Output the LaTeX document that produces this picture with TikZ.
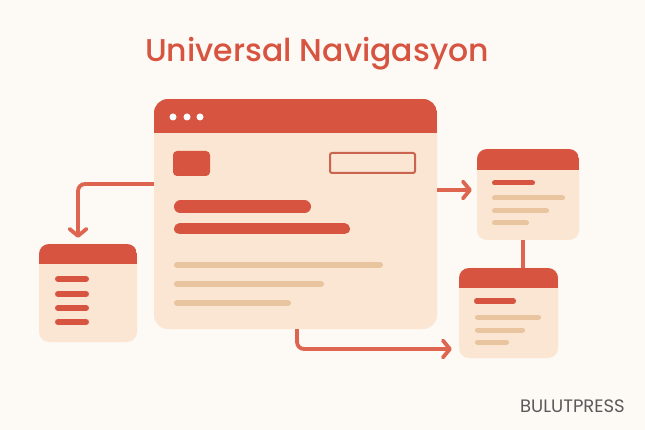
\documentclass[tikz,border=0pt]{standalone}
\usepackage{fontspec}
\setmainfont{Poppins}
\newfontfamily\titlefont{Poppins Medium}
\usetikzlibrary{arrows.meta,calc}
\definecolor{bgc}{HTML}{FDF9F4}
\definecolor{panelc}{HTML}{FAE6D3}
\definecolor{redc}{HTML}{D75441}
\definecolor{tanc}{HTML}{E8C49F}
\definecolor{arrc}{HTML}{DE6650}
\definecolor{boxc}{HTML}{C9654E}
\definecolor{logoc}{HTML}{5A5A5A}
\tikzset{
  win/.style n args={3}{draw=none, fill=panelc, rounded corners=#3,
    minimum width=#1, minimum height=#2, inner sep=0pt,
    path picture={\fill[redc, sharp corners] (path picture bounding box.north west) rectangle
      ([yshift=-\hdr]path picture bounding box.north east);}},
  conn/.style={draw=arrc, line width=3.8pt, rounded corners=7pt},
  arrowtip/.style={-{Straight Barb[length=7pt,width=17pt,line cap=round,line join=round]}},
  redbar/.style={draw=redc, line cap=round},
  tanbar/.style={draw=tanc, line cap=round, line width=6pt},
}
\newlength{\hdr}
\begin{document}
\begin{tikzpicture}[x=1pt,y=-1pt]
\fill[bgc] (0,0) rectangle (645,430);
\useasboundingbox (0,0) rectangle (645,430);

% title
\node[anchor=base, text=redc, font=\titlefont\fontsize{31.5}{34}\selectfont, inner sep=0pt] (title) at (317,62) {Universal Navigasyon};

% windows
\setlength{\hdr}{34pt}
\node[win={283pt}{230pt}{14pt}] (main) at (295.5,214) {};
\setlength{\hdr}{20pt}
\node[win={98pt}{98pt}{10pt}] (left) at (88,293) {};
\setlength{\hdr}{21pt}
\node[win={102pt}{91pt}{10pt}] (tr) at (528,194.5) {};
\setlength{\hdr}{20pt}
\node[win={99pt}{90pt}{10pt}] (br) at (508.5,313) {};

% main window content
\foreach \x in {173,187,200} \fill[white] (\x,117) circle (3.5);
\fill[redc, rounded corners=4pt] (173,151) rectangle (210,176);
\draw[boxc, line width=2pt, rounded corners=2pt, fill=panelc] (330,153) rectangle (415,173);
\draw[redbar, line width=13pt] (180.5,207) -- (304.5,207);
\draw[redbar, line width=11pt] (179.5,229) -- (344.5,229);
\draw[tanbar] (177,265) -- (380,265);
\draw[tanbar] (177,284) -- (321,284);
\draw[tanbar] (177,303) -- (288,303);

% left window content
\foreach \y in {279,294,308,322} \draw[redbar, line width=6pt] (58,\y) -- (86,\y);

% top right content
\draw[redbar, line width=5pt] (494.5,183) -- (532.5,183);
\draw[tanbar, line width=5pt] (494.5,198) -- (562.5,198);
\draw[tanbar, line width=5pt] (494.5,211) -- (546.5,211);
\draw[tanbar, line width=5pt] (494.5,223) -- (526.5,223);

% bottom right content
\draw[redbar, line width=5pt] (476.5,301) -- (513.5,301);
\draw[tanbar, line width=5pt] (477.5,317) -- (538.5,317);
\draw[tanbar, line width=5pt] (477.5,330) -- (522.5,330);
\draw[tanbar, line width=5pt] (477.5,342) -- (506.5,342);

% connectors
\draw[conn, arrowtip] ([yshift=30pt]main.west) -| ([xshift=-10pt,yshift=6pt]left.north);
\draw[conn, arrowtip] ([yshift=24pt]main.east) -- ([xshift=-5pt,yshift=4.5pt]tr.west);
\draw[conn, arrowtip] ([xshift=1.5pt]main.south) |- ([xshift=-7pt,yshift=-36pt]br.west);
\draw[conn] ([xshift=-5pt]tr.south) -- ([xshift=-5pt]tr.south |- br.north);

% logo
\node[anchor=base west, text=logoc, font=\fontsize{18}{20}\selectfont, inner sep=0pt] (logo) at (520,412) {BULUTPRESS};
\end{tikzpicture}
\end{document}
